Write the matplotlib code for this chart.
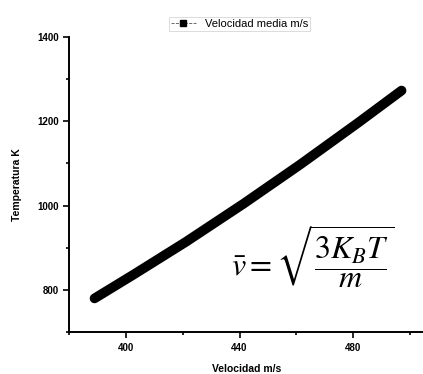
import numpy as np
import matplotlib.pyplot as plt
from matplotlib.ticker import MultipleLocator

# values
velocidad = [389, 400, 420, 440, 460, 480, 497]
temperatura = [780, 825, 909, 998, 1091, 1188, 1273]
xticks = [400, 440, 480]
yticks = [800, 1000, 1200, 1400]

plt.rcParams['font.family'] = ['Liberation Sans', 'DejaVu Sans']
plt.rcParams['mathtext.fontset'] = 'stix'

fig = plt.figure(figsize=(4.23, 3.74), dpi=100)
ax = fig.add_axes([0.163, 0.112, 0.84, 0.789])

# dense square markers make the thick band
vx = np.linspace(velocidad[0], velocidad[-1], 300)
ty = np.interp(vx, velocidad, temperatura)
ax.plot(vx, ty, color='black', lw=7, solid_capstyle='round', zorder=2)
ax.plot([], [], color='#555555', lw=0.6, marker='s', ms=4, mfc='black',
        mec='black', ls='--', label='Velocidad media m/s')

ax.set_xlim(380, 505)
ax.set_ylim(700, 1400)
ax.set_xticks(xticks)
ax.set_yticks(yticks)
ax.xaxis.set_minor_locator(MultipleLocator(20))
ax.yaxis.set_minor_locator(MultipleLocator(100))
ax.tick_params(which='both', direction='out', width=1.2)
ax.tick_params(which='major', length=4, labelsize=7)
ax.tick_params(which='minor', length=2)
for lab in ax.get_xticklabels() + ax.get_yticklabels():
    lab.set_fontweight('bold')

for s in ['top', 'right']:
    ax.spines[s].set_visible(False)
for s in ['left', 'bottom']:
    ax.spines[s].set_linewidth(1.4)

ax.set_xlabel('Velocidad m/s', fontsize=7.5, fontweight='bold', labelpad=8)
ax.set_ylabel('Temperatura K', fontsize=7.5, fontweight='bold', labelpad=11)

ax.text(0.455, 0.255, r'$\bar{v} = \sqrt{\dfrac{3K_BT}{m}}$', transform=ax.transAxes,
        fontsize=23, va='center')

leg = ax.legend(loc='lower center', bbox_to_anchor=(0.48, 1.0), fontsize=8,
                frameon=True, fancybox=False, edgecolor='#cccccc',
                borderpad=0.2, handlelength=2.2)
leg.get_frame().set_linewidth(0.6)

fig.savefig('out.png', dpi=100)
